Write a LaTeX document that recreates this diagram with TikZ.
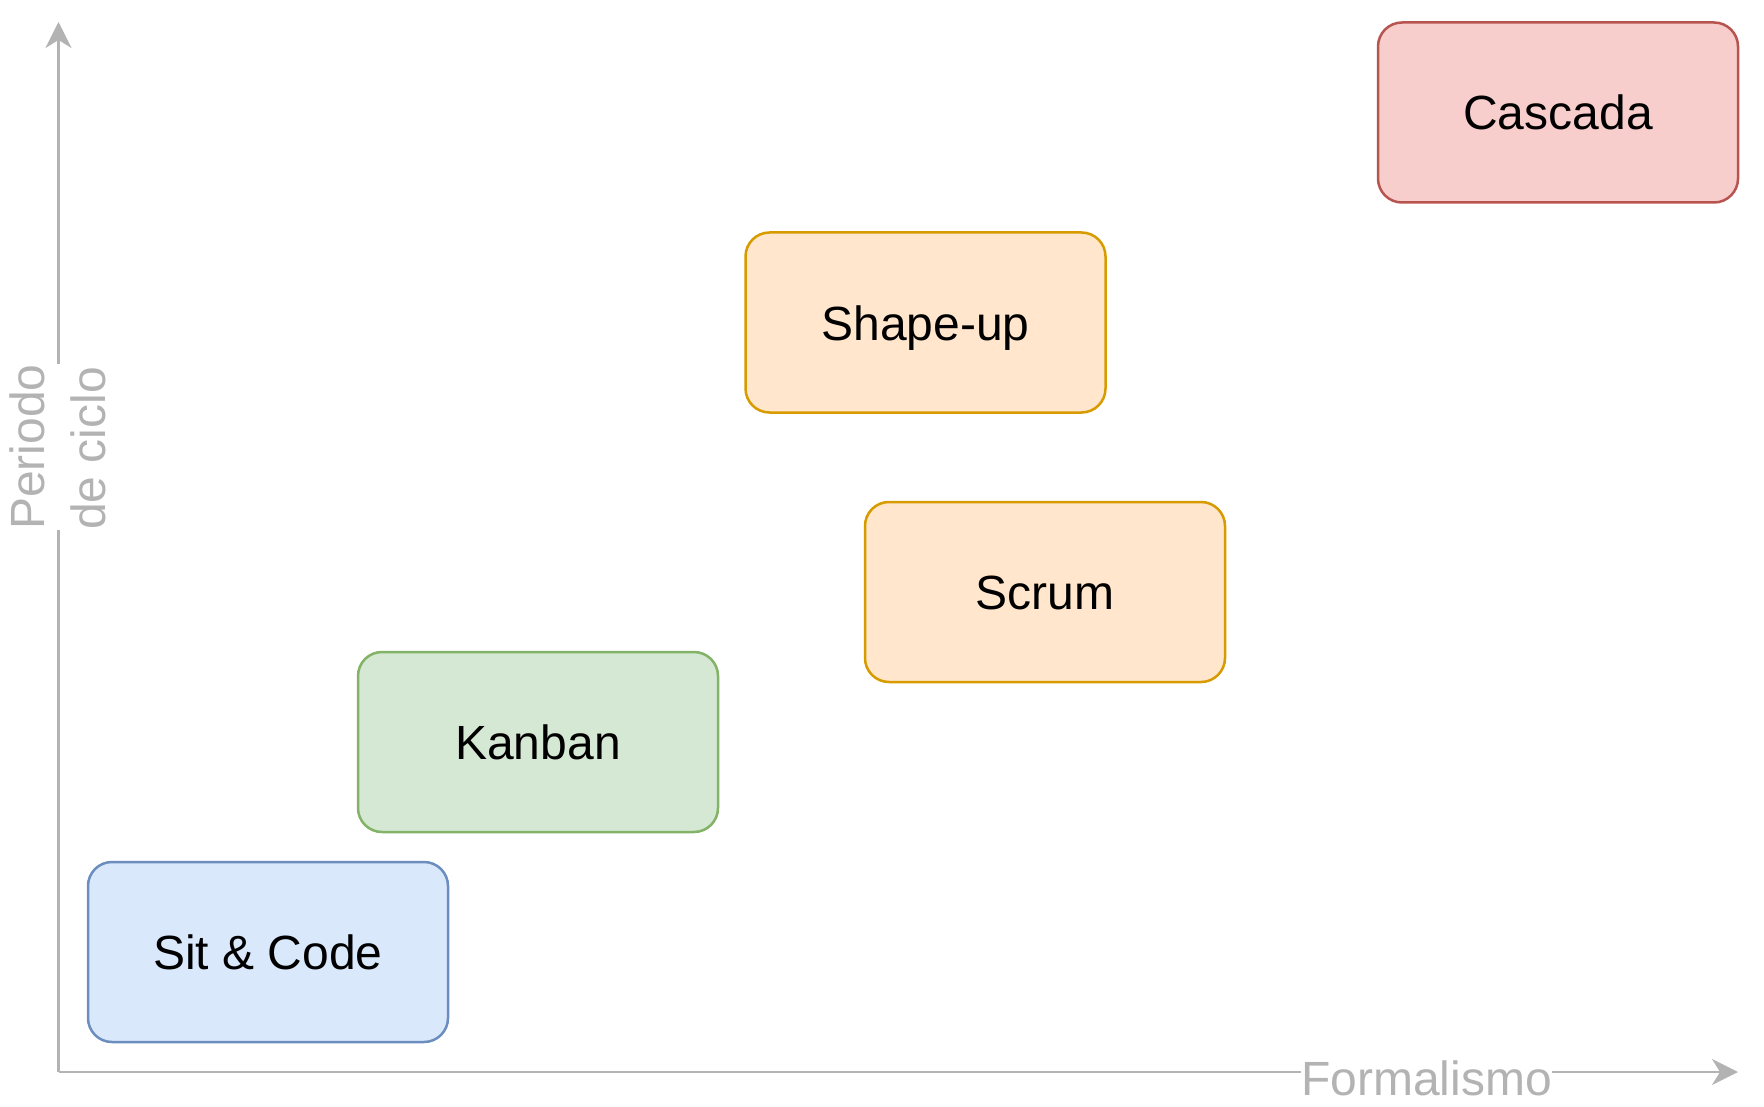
\documentclass[tikz,border=0pt]{standalone}
\usepackage{fontspec}
\setmainfont{Liberation Sans}
\usetikzlibrary{arrows.meta}

\definecolor{axisgray}{HTML}{B3B3B3}
\definecolor{bluefill}{HTML}{DAE8FC}
\definecolor{bluedraw}{HTML}{6C8EBF}
\definecolor{greenfill}{HTML}{D5E8D4}
\definecolor{greendraw}{HTML}{82B366}
\definecolor{orangefill}{HTML}{FFE6CC}
\definecolor{orangedraw}{HTML}{D79B00}
\definecolor{redfill}{HTML}{F8CECC}
\definecolor{reddraw}{HTML}{B85450}

\tikzset{
    method/.style={draw, line width=2.5pt, rounded corners=24pt,
        minimum width=360pt, minimum height=180pt,
        text height=35pt, text depth=0pt,
        font=\fontsize{48}{58}\selectfont},
    axis/.style={draw=axisgray, line width=2.5pt,
        -{Stealth[length=26pt, width=26pt, inset=8pt]}},
    axislabel/.style={text=axisgray, fill=white, inner sep=0pt,
        font=\fontsize{48}{61}\selectfont}
}

\begin{document}
\begin{tikzpicture}[x=1pt, y=-1pt]

    \useasboundingbox (0, 0) rectangle (1764, 1107);

    %% Methods by formalism and cycle period

    % Axes
    \coordinate (origin) at (58.5, 1072);
    \coordinate (ytip) at (58.5, 22);
    \coordinate (xtip) at (1738, 1072);
    \draw[axis] (origin) -- (ytip);
    \draw[axis] (origin) -- (xtip);

    % Axis labels
    \node[axislabel, rotate=90, align=left] (ylabel) at (58, 447)
        {Periodo\\de ciclo};
    \node[axislabel, anchor=base] (xlabel) at (1426.5, 1095) {Formalismo};

    % Methods
    \node[method, fill=bluefill, draw=bluedraw] (sitcode) at (268, 952) {Sit \& Code};
    \node[method, fill=greenfill, draw=greendraw] (kanban) at (538, 742) {Kanban};
    \node[method, fill=orangefill, draw=orangedraw] (scrum) at (1045, 592) {Scrum};
    \node[method, fill=orangefill, draw=orangedraw] (shapeup) at (925.5, 322.5) {Shape-up};
    \node[method, fill=redfill, draw=reddraw] (cascada) at (1558, 112.5) {Cascada};

\end{tikzpicture}
\end{document}
